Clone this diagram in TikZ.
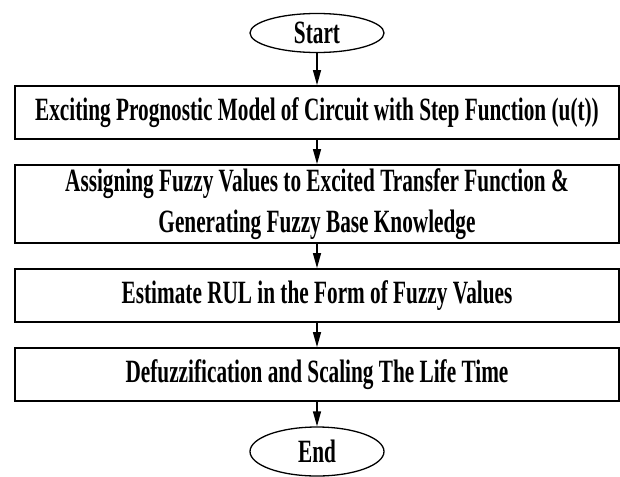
\documentclass[tikz,border=0pt]{standalone}
\usepackage{fontspec}
\setmainfont[FakeStretch=0.654]{Liberation Serif}
\usetikzlibrary{arrows.meta,shapes.geometric}
\begin{document}
\begin{tikzpicture}[x=1pt,y=1pt,
  every node/.style={font=\fontsize{32.5}{41}\selectfont\bfseries},
  stepbox/.style={draw,line width=1.8pt,minimum width=604pt,inner sep=0pt,align=center},
  term/.style={draw,ellipse,line width=1.3pt,minimum width=134pt,inner sep=0pt},
  flow/.style={line width=1.3pt,-{Triangle[width=8pt,length=15pt]}}]
\useasboundingbox (0,0) rectangle (620,-476);
\node[term,minimum height=39pt] (start) at (317,-33) {Start};
\node[stepbox,minimum height=53pt] (b1) at (317,-112.5)
  {Exciting Prognostic Model of Circuit with Step Function (u(t))};
\node[stepbox,minimum height=78pt] (b2) at (317,-204)
  {Assigning Fuzzy Values to Excited Transfer Function \&\\Generating Fuzzy Base Knowledge};
\node[stepbox,minimum height=53pt] (b3) at (317,-295.5)
  {Estimate RUL in the Form of Fuzzy Values};
\node[stepbox,minimum height=53pt] (b4) at (317,-374.5)
  {Defuzzification and Scaling The Life Time};
\node[term,minimum height=49pt] (end) at (317,-451.5) {End};
\draw[flow] (start) -- (b1);
\draw[flow] (b1) -- (b2);
\draw[flow] (b2) -- (b3);
\draw[flow] (b3) -- (b4);
\draw[flow] (b4) -- (end);
\end{tikzpicture}
\end{document}
